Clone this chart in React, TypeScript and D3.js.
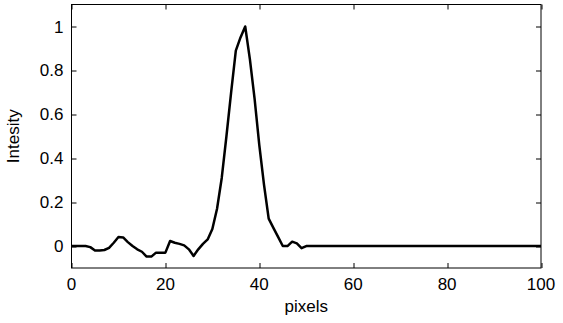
import { useEffect, useRef } from 'react';
import * as d3 from 'd3';

// intensity profile, one value per pixel 0..100
const intensity = [
  0, 0, 0, 0, -0.005, -0.02, -0.02, -0.018, -0.008, 0.015,
  0.041, 0.039, 0.018, 0, -0.015, -0.026, -0.048, -0.048, -0.03, -0.03,
  -0.03, 0.023, 0.015, 0.01, 0.003, -0.015, -0.045, -0.015, 0.01, 0.03,
  0.078, 0.17, 0.31, 0.5, 0.7, 0.89, 0.95, 1.0, 0.85, 0.67,
  0.46, 0.28, 0.125, 0.083, 0.042, 0, 0, 0.02, 0.012, -0.01,
  0, 0, 0, 0, 0, 0, 0, 0, 0, 0,
  0, 0, 0, 0, 0, 0, 0, 0, 0, 0,
  0, 0, 0, 0, 0, 0, 0, 0, 0, 0,
  0, 0, 0, 0, 0, 0, 0, 0, 0, 0,
  0, 0, 0, 0, 0, 0, 0, 0, 0, 0,
  0,
];
const pixels = intensity.map((_, i) => i);

const xTicks = [0, 20, 40, 60, 80, 100];
const yTicks = [0, 0.2, 0.4, 0.6, 0.8, 1];
const xDomain = [0, 100];
const yDomain = [-0.1, 1.1];

const W = 563;
const H = 323;

export default function App() {
  const svgRef = useRef<SVGSVGElement>(null);

  useEffect(() => {
    if (!svgRef.current) return;
    const margin = { top: 4.5, right: 22, bottom: 55, left: 71.5 };
    const iw = W - margin.left - margin.right;
    const ih = H - margin.top - margin.bottom;

    const svg = d3.select(svgRef.current);
    svg.selectAll('*').remove();

    const g = svg.append('g').attr('transform', `translate(${margin.left},${margin.top})`);
    const x = d3.scaleLinear().domain(xDomain).range([0, iw]);
    const y = d3.scaleLinear().domain(yDomain).range([ih, 0]);

    const font = 'Arial, "Liberation Sans", Helvetica, sans-serif';
    const tick = 5;

    // box
    g.append('rect').attr('x', 0).attr('y', 0).attr('width', iw).attr('height', ih)
      .attr('fill', 'none').attr('stroke', '#000').attr('stroke-width', 1);

    // ticks, mirrored on all four sides, pointing inward
    xTicks.forEach(t => {
      const px = Math.round(x(t)) + 0.5;
      g.append('line').attr('x1', px).attr('x2', px).attr('y1', ih).attr('y2', ih - tick).attr('stroke', '#000');
      g.append('line').attr('x1', px).attr('x2', px).attr('y1', 0).attr('y2', tick).attr('stroke', '#000');
      g.append('text').attr('x', x(t)).attr('y', ih + 22).attr('text-anchor', 'middle')
        .attr('font-family', font).attr('font-size', 17).attr('fill', '#000').text(String(t));
    });
    yTicks.forEach(t => {
      const py = Math.round(y(t)) + 0.5;
      g.append('line').attr('x1', 0).attr('x2', tick).attr('y1', py).attr('y2', py).attr('stroke', '#000');
      g.append('line').attr('x1', iw).attr('x2', iw - tick).attr('y1', py).attr('y2', py).attr('stroke', '#000');
      g.append('text').attr('x', -8).attr('y', y(t)).attr('dy', '0.36em').attr('text-anchor', 'end')
        .attr('font-family', font).attr('font-size', 17).attr('fill', '#000').text(String(t));
    });

    // axis labels
    g.append('text').attr('x', iw / 2).attr('y', ih + 44).attr('text-anchor', 'middle')
      .attr('font-family', font).attr('font-size', 17).attr('fill', '#000').text('pixels');
    g.append('text').attr('transform', 'rotate(-90)').attr('x', -ih / 2).attr('y', -53)
      .attr('text-anchor', 'middle').attr('font-family', font).attr('font-size', 17)
      .attr('fill', '#000').text('Intesity');

    const line = d3.line<number>().x((_, i) => x(pixels[i])).y(d => y(d));
    g.append('path').datum(intensity).attr('fill', 'none').attr('stroke', '#000')
      .attr('stroke-width', 2.5).attr('stroke-linejoin', 'round').attr('d', line);
  }, []);

  return (
    <svg ref={svgRef} width={W} height={H}
      style={{ position: 'fixed', left: 0, top: 0, background: '#fff' }} />
  );
}
